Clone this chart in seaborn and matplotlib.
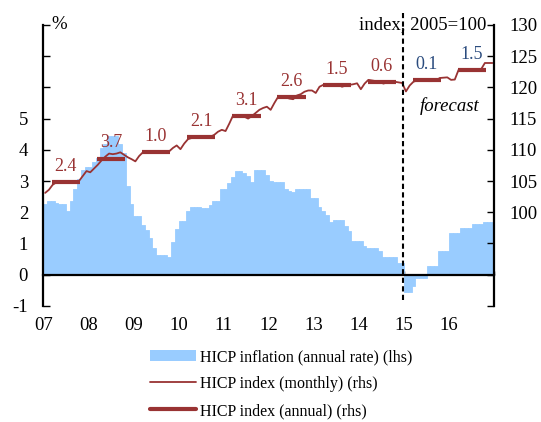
import numpy as np
import pandas as pd
import seaborn as sns
import matplotlib.pyplot as plt
from matplotlib.patches import Patch
from matplotlib.lines import Line2D

# HICP inflation, annual rate (%), monthly Jan 2007 - Dec 2016 (lhs)
infl_2007 = [2.25, 2.35, 2.35, 2.3, 2.25, 2.25, 2.05, 2.35, 2.75, 3.05, 3.35, 3.45]
infl_2008 = [3.45, 3.6, 3.75, 4.05, 4.2, 4.45, 4.45, 4.45, 4.2, 3.9, 2.85, 2.25]
infl_2009 = [1.87, 1.87, 1.6, 1.44, 1.18, 0.86, 0.64, 0.64, 0.64, 0.57, 1.05, 1.45]
infl_2010 = [1.73, 1.73, 2.05, 2.16, 2.16, 2.16, 2.14, 2.14, 2.24, 2.35, 2.35, 2.75]
infl_2011 = [2.75, 2.94, 3.13, 3.33, 3.33, 3.26, 3.17, 2.97, 3.34, 3.34, 3.34, 3.2]
infl_2012 = [3.0, 2.97, 2.97, 2.97, 2.75, 2.67, 2.64, 2.75, 2.75, 2.75, 2.75, 2.46]
infl_2013 = [2.46, 2.17, 2.05, 1.92, 1.68, 1.76, 1.76, 1.76, 1.55, 1.39, 1.07, 1.07]
infl_2014 = [1.07, 0.93, 0.86, 0.86, 0.86, 0.75, 0.57, 0.57, 0.57, 0.57, 0.36, 0.36]
infl_2015 = [-0.55, -0.55, -0.37, -0.1, -0.1, -0.1, 0.29, 0.29, 0.29, 0.77, 0.77, 0.77]
infl_2016 = [1.33, 1.33, 1.33, 1.5, 1.5, 1.5, 1.62, 1.62, 1.62, 1.68, 1.68, 1.68]

# HICP index (2005=100), monthly (rhs)
idx_2007 = [103.1, 103.6, 104.4, 104.8, 104.9, 104.9, 104.7, 104.8, 104.9, 105.0, 105.8, 106.6]
idx_2008 = [106.4, 107.0, 107.6, 108.3, 108.9, 109.4, 109.3, 109.4, 109.6, 109.2, 108.8, 108.5]
idx_2009 = [108.15, 109.0, 109.6, 109.8, 109.75, 109.8, 109.5, 109.7, 109.8, 109.75, 110.3, 110.7]
idx_2010 = [110.1, 111.0, 111.7, 111.9, 112.0, 112.0, 111.9, 112.0, 112.1, 112.4, 112.9, 113.2]
idx_2011 = [113.0, 114.2, 115.5, 115.4, 115.5, 115.3, 115.0, 115.4, 115.9, 116.4, 116.7, 116.9]
idx_2012 = [116.4, 117.5, 118.5, 118.6, 118.4, 118.2, 118.1, 118.7, 118.9, 119.3, 119.5, 119.5]
idx_2013 = [119.1, 120.1, 120.4, 120.5, 120.5, 120.3, 120.4, 120.1, 120.3, 120.4, 120.5, 120.65]
idx_2014 = [119.7, 120.6, 121.2, 121.1, 121.0, 120.9, 120.6, 120.8, 121.0, 120.9, 120.8, 120.7]
idx_2015 = [119.35, 120.3, 120.9, 121.1, 121.1, 121.1, 121.0, 121.0, 121.1, 121.5, 121.55, 121.6]
idx_2016 = [121.2, 121.25, 122.8, 122.8, 122.8, 122.8, 122.8, 122.8, 122.9, 123.9, 123.9, 123.9]

# HICP index, annual average (rhs) and its growth labels
idx_annual = [104.8, 108.6, 109.6, 112.0, 115.4, 118.4, 120.3, 120.9, 121.1, 122.8]
growth_labels = ["2.4", "3.7", "1.0", "2.1", "3.1", "2.6", "1.5", "0.6", "0.1", "1.5"]
year_labels = ["07", "08", "09", "10", "11", "12", "13", "14", "15", "16"]

BLUE = "#99CCFF"
RED = "#993333"
NAVY = "#2B4C7E"

sns.set_style("ticks", {"axes.edgecolor": "black", "xtick.color": "black",
                        "ytick.color": "black", "text.color": "black"})
plt.rcParams["font.family"] = ["Liberation Serif", "DejaVu Serif"]
plt.rcParams["font.size"] = 13.5

infl = infl_2007 + infl_2008 + infl_2009 + infl_2010 + infl_2011 + infl_2012 + infl_2013 + infl_2014 + infl_2015 + infl_2016
idx = idx_2007 + idx_2008 + idx_2009 + idx_2010 + idx_2011 + idx_2012 + idx_2013 + idx_2014 + idx_2015 + idx_2016
months = np.arange(len(infl))

fig = plt.figure(figsize=(5.41, 4.22), dpi=100)
ax = fig.add_axes([0.080, 0.275, 0.8336, 0.666])

# --- bars: inflation (lhs) ---
sns.barplot(x=months, y=infl, color=BLUE, saturation=1, width=1, errorbar=None,
            linewidth=0.6, edgecolor=BLUE, ax=ax)

ax.set_ylim(-1, 8)
ax.set_yticks(range(-1, 9))
ax.set_yticklabels([str(v) if v <= 5 else "" for v in range(-1, 9)])
ax.set_xticks(np.arange(-0.5, 120, 12))
ax.set_xticklabels([])
ax.spines["bottom"].set_position(("data", 0))
ax.spines["bottom"].set_linewidth(1.6)
ax.spines["left"].set_linewidth(1.6)
ax.spines["top"].set_visible(False)
ax.spines["right"].set_visible(False)
ax.tick_params(axis="x", direction="in", length=3, width=1)
ax.tick_params(axis="y", direction="in", length=5, width=1, pad=11)
ax.set_xlabel("")
ax.set_ylabel("")

for k, yl in enumerate(year_labels):
    ax.text(12 * k - 0.5, -0.07, yl, transform=ax.get_xaxis_transform(),
            ha="center", va="center")

# --- lines: HICP index (rhs) ---
ax2 = ax.twinx()
sns.lineplot(x=months, y=idx, color=RED, lw=1.3, ax=ax2, legend=False)

seg = pd.DataFrame({
    "x": np.concatenate([[12 * k + 1.8, 12 * k + 9.3] for k in range(len(idx_annual))]),
    "y": np.repeat(idx_annual, 2),
    "yr": np.repeat(year_labels, 2),
})
sns.lineplot(data=seg, x="x", y="y", units="yr", estimator=None, color=RED,
             lw=3, solid_capstyle="butt", ax=ax2, legend=False)

for k, (v, lab) in enumerate(zip(idx_annual, growth_labels)):
    ax2.text(12 * k + 5.5, v + 2.5, lab, ha="center", va="center", fontsize=13,
             color=RED if k < 8 else NAVY)

ax2.set_ylim(85, 130)
ax2.set_yticks(range(85, 131, 5))
ax2.set_yticklabels([str(v) if v >= 100 else "" for v in range(85, 131, 5)])
for s in ["left", "top", "bottom"]:
    ax2.spines[s].set_visible(False)
ax2.spines["right"].set_linewidth(1.6)
ax2.tick_params(axis="y", direction="in", length=5, width=1, pad=11)
ax2.set_xlabel("")
ax2.set_ylabel("")

# forecast marker
ax2.axvline(95.3, ymin=0.021, ymax=1.043, color="black", lw=1.5,
            dashes=(2.5, 1.6), clip_on=False)
ax2.text(0.9, 0.71, "forecast", transform=ax2.transAxes, ha="center",
         va="center", style="italic")

ax.set_xlim(-0.5, 119.5)

ax.text(0.019, 1.0, "%", transform=ax.transAxes, ha="left", va="center")
ax.text(0.983, 1.0, "index, 2005=100", transform=ax.transAxes, ha="right", va="center")

handles = [Patch(facecolor=BLUE, edgecolor="none"),
           Line2D([], [], color=RED, lw=1.3),
           Line2D([], [], color=RED, lw=3)]
labels = ["HICP inflation (annual rate) (lhs)",
          "HICP index (monthly) (rhs)",
          "HICP index (annual) (rhs)"]
fig.legend(handles, labels, loc="upper left", bbox_to_anchor=(0.277, 0.1725),
           frameon=False, handlelength=2.9, handletextpad=0.25, labelspacing=0.68,
           borderaxespad=0, borderpad=0, fontsize=11.5)

fig.savefig("out.png", dpi=100)
